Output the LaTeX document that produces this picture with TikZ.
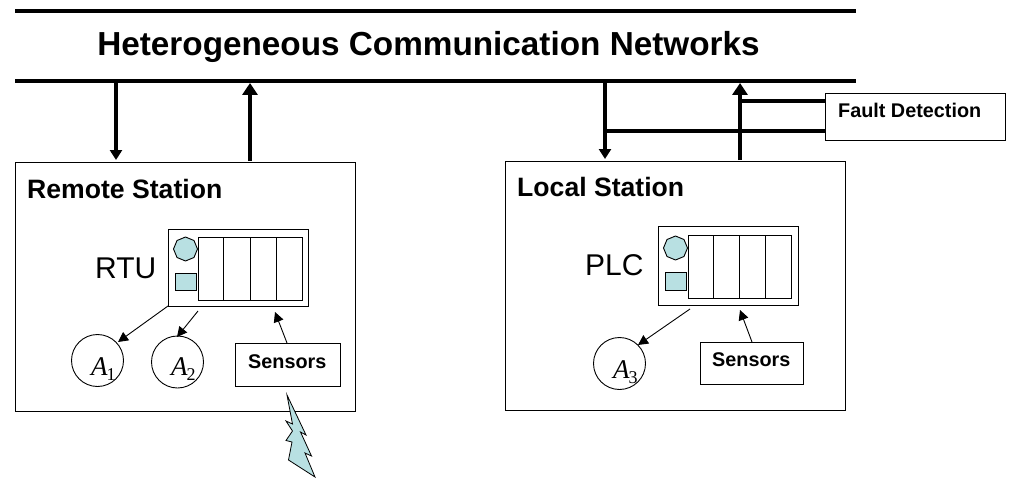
\documentclass[tikz,border=0pt]{standalone}
\usepackage{fontspec}
\setmainfont{Liberation Sans}
\newfontfamily\mathfam{Liberation Serif}
\usetikzlibrary{arrows.meta,shapes.geometric}
\definecolor{ledc}{RGB}{184,224,226}
\newcommand{\actlabel}[1]{{\mathfam\fontsize{27}{27}\selectfont\itshape A\kern-1pt\raisebox{-5pt}{\fontsize{18}{18}\selectfont\upshape #1}}}
\tikzset{
  box/.style={draw=black,fill=white,line width=0.9pt,inner sep=0pt,rectangle},
  lab/.style={inner sep=0pt,anchor=base west,font=\bfseries},
  plain/.style={inner sep=0pt,anchor=base west},
  act/.style={circle,draw=black,fill=white,line width=0.9pt,minimum size=52pt,inner sep=0pt},
  octa/.style={regular polygon,regular polygon sides=8,shape border rotate=22.5,draw=black,fill=ledc,line width=0.9pt,inner sep=0pt,minimum size=24pt},
  thin arrow/.style={line width=0.9pt,-{Triangle[length=10pt,width=10pt]}},
  thick down/.style={line width=3.5pt,-{Triangle[length=10pt,width=12pt]}},
  thick up/.style={line width=4.8pt,-{Triangle[length=12pt,width=15pt]}},
  rail/.style={line width=4pt},
}
\begin{document}
\begin{tikzpicture}[x=1pt,y=-1pt]
\useasboundingbox (0,0) rectangle (1014,484);
\node[inner sep=0pt] (title) at (428.5,46.5) {\fontsize{33.3}{33.3}\selectfont\bfseries Heterogeneous Communication Networks};
\coordinate (t1) at (15,11); \coordinate (t2) at (856,11);
\coordinate (b1) at (15,81); \coordinate (b2) at (856,81);
\draw[rail] (t1) -- (t2);
\draw[rail] (b1) -- (b2);
% Stations
\node[box,minimum width=340pt,minimum height=249pt] (remote) at (185.5,286.5) {};
\node[box,minimum width=340pt,minimum height=249pt] (local) at (675.5,285.5) {};
\node[lab] (remotelab) at (27,198) {\fontsize{26.6}{26.6}\selectfont Remote Station};
\node[lab] (locallab) at (517,196) {\fontsize{26.6}{26.6}\selectfont Local Station};
\node[plain] (rtulab) at (95,278) {\fontsize{30}{30}\selectfont RTU};
\node[plain] (plclab) at (585,275) {\fontsize{30}{30}\selectfont PLC};
% RTU
\node[box,minimum width=140pt,minimum height=77pt] (rtu) at (238,267.5) {};
\node[box,minimum width=104pt,minimum height=63pt] (rtuin) at (250,268.5) {};
\foreach \x in {223,250,276} \draw[line width=0.9pt] (\x,237) -- (\x,300);
\node[octa] (rtuoct) at (185.5,249) {};
\node[box,fill=ledc,minimum width=21pt,minimum height=17pt] (rtusq) at (185.5,281.5) {};
% PLC
\node[box,minimum width=140pt,minimum height=79pt] (plc) at (728,265.5) {};
\node[box,minimum width=103pt,minimum height=63pt] (plcin) at (739.5,266.5) {};
\foreach \x in {713,739.5,765} \draw[line width=0.9pt] (\x,235) -- (\x,298);
\node[octa] (plcoct) at (675.5,248) {};
\node[box,fill=ledc,minimum width=21pt,minimum height=18pt] (plcsq) at (675.5,281) {};
% Actuators
\node[act] (a1) at (97.5,360.5) {};
\node[act] (a2) at (177.5,362) {};
\node[act] (a3) at (619.5,363.5) {};
\node[plain] (a1lab) at (91,375) {\actlabel{1}};
\node[plain] (a2lab) at (171,375) {\actlabel{2}};
\node[plain] (a3lab) at (613,378) {\actlabel{3}};
% Sensors
\node[box,minimum width=105pt,minimum height=43pt] (s1) at (287.5,364.5) {};
\node[box,minimum width=103pt,minimum height=42pt] (s2) at (751.5,363) {};
\node[lab] (s1lab) at (248,368) {\fontsize{19.8}{19.8}\selectfont Sensors};
\node[lab] (s2lab) at (712,366.5) {\fontsize{19.8}{19.8}\selectfont Sensors};
% Thin arrows
\coordinate (ra1) at (168,306); \coordinate (ra1t) at (118,342);
\coordinate (ra2) at (198,311); \coordinate (ra2t) at (177,337);
\coordinate (rs) at (287,343); \coordinate (rst) at (275,312);
\coordinate (la3) at (690,309); \coordinate (la3t) at (638,345);
\coordinate (ls) at (752,342); \coordinate (lst) at (740,310);
\draw[thin arrow] (ra1) -- (ra1t);
\draw[thin arrow] (ra2) -- (ra2t);
\draw[thin arrow] (rs) -- (rst);
\draw[thin arrow] (la3) -- (la3t);
\draw[thin arrow] (ls) -- (lst);
% Thick arrows
\coordinate (d1a) at (116,81); \coordinate (d1b) at (116,160);
\coordinate (u1a) at (250,161); \coordinate (u1b) at (250,83);
\coordinate (d2a) at (605,81); \coordinate (d2b) at (605,159);
\coordinate (u2a) at (740,160); \coordinate (u2b) at (740,83);
\draw[thick down] (d1a) -- (d1b);
\draw[thick up] (u1a) -- (u1b);
\draw[thick down] (d2a) -- (d2b);
\draw[thick up] (u2a) -- (u2b);
% Fault detection
\node[box,minimum width=180pt,minimum height=47pt] (fault) at (915.5,116.5) {};
\node[lab] (faultlab) at (838,117.5) {\fontsize{19.8}{19.8}\selectfont Fault Detection};
\coordinate (f1) at (740,101); \coordinate (f1e) at (825,101);
\coordinate (f2) at (605,131); \coordinate (f2e) at (825,131);
\draw[line width=3.5pt] (f1) -- (f1e);
\draw[line width=3.5pt] (f2) -- (f2e);
% Lightning
\draw[fill=ledc,draw=black,line width=0.8pt] (287,395) -- (306,435) -- (300.5,432) -- (311.5,456) -- (305,453) -- (315,477) -- (288.5,460) -- (292,442) -- (286,440.5) -- (292.5,431) -- (286,421) -- (292.5,424) -- cycle;
\end{tikzpicture}
\end{document}
